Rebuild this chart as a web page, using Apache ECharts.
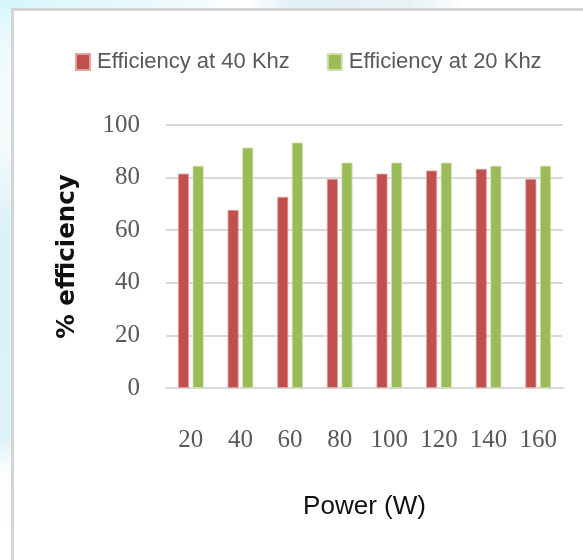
<!DOCTYPE html>
<html>
<head>
<meta charset="utf-8">
<script src="https://cdn.jsdelivr.net/npm/echarts@6/dist/echarts.min.js"></script>
<style>
  html, body { margin: 0; padding: 0; background: #ffffff; }
  #chart { width: 583px; height: 560px; }
</style>
</head>
<body>
<div id="chart"></div>
<script>
// Output power levels (W)
const powerLevels = ['20', '40', '60', '80', '100', '120', '140', '160'];
// Measured efficiency (%) at each switching frequency
const eff40kHz = [81.5, 67.7, 72.7, 79.5, 81.5, 82.7, 83.3, 79.5];
const eff20kHz = [84.5, 91.4, 93.3, 85.7, 85.7, 85.7, 84.5, 84.5];
const seriesNames = ['Efficiency at 40 Khz', 'Efficiency at 20 Khz'];
const yTicks = { min: 0, max: 100, interval: 20 };

const chart = echarts.init(document.getElementById('chart'), null, { renderer: 'canvas' });

const vGrad = (stops) => new echarts.graphic.LinearGradient(0, 0, 0, 1, stops);
const hGrad = (stops) => new echarts.graphic.LinearGradient(0, 0, 1, 0, stops);

chart.setOption({
  backgroundColor: '#ffffff',
  animation: false,
  graphic: [
    // pale backdrop strips around the framed panel
    { type: 'rect', z: -10, shape: { x: 0, y: 0, width: 12, height: 560 },
      style: { fill: vGrad([
        { offset: 0, color: '#d6f6fb' }, { offset: 0.08, color: '#eefafc' },
        { offset: 0.25, color: '#f7fbfc' }, { offset: 0.42, color: '#d9f1f8' },
        { offset: 0.78, color: '#dcf2f8' }, { offset: 0.84, color: '#fbfdfd' },
        { offset: 1, color: '#ffffff' } ]) } },
    { type: 'rect', z: -10, shape: { x: 0, y: 0, width: 583, height: 9 },
      style: { fill: hGrad([
        { offset: 0, color: '#d6f6fb' }, { offset: 0.3, color: '#eefafc' },
        { offset: 0.42, color: '#ffffff' }, { offset: 0.5, color: '#e3f1f6' },
        { offset: 0.7, color: '#e8f2f5' }, { offset: 0.8, color: '#ffffff' },
        { offset: 1, color: '#ffffff' } ]) } },
    // panel frame
    { type: 'rect', z: -5, shape: { x: 12.5, y: 9.5, width: 600, height: 600 },
      style: { fill: '#ffffff', stroke: '#d4d4d4', lineWidth: 3 } }
  ],
  legend: {
    top: 51,
    left: 75,
    padding: 0,
    itemWidth: 14,
    itemHeight: 16,
    itemGap: 37,
    icon: 'rect',
    textStyle: { fontFamily: 'Liberation Sans', fontSize: 22, color: '#595959', padding: [0, 0, 0, 2] },
    data: seriesNames
  },
  grid: { left: 166, right: 20, top: 125, bottom: 172, containLabel: false },
  xAxis: {
    type: 'category',
    data: powerLevels,
    name: 'Power (W)',
    nameLocation: 'middle',
    nameGap: 106,
    nameTextStyle: { fontFamily: 'Liberation Sans', fontSize: 26, color: '#111111' },
    axisLine: { lineStyle: { color: '#d9d9d9', width: 2 } },
    axisTick: { show: false },
    axisLabel: { fontFamily: 'Liberation Serif', fontSize: 25, color: '#595959', margin: 40 }
  },
  yAxis: {
    type: 'value',
    min: yTicks.min,
    max: yTicks.max,
    interval: yTicks.interval,
    name: '% efficiency',
    nameLocation: 'middle',
    nameGap: 86,
    nameRotate: 90,
    nameTextStyle: { fontFamily: 'DejaVu Sans', fontWeight: 'bold', fontSize: 24.5, color: '#111111' },
    axisLine: { show: false },
    axisTick: { show: false },
    splitLine: { lineStyle: { color: '#d9d9d9', width: 2 } },
    axisLabel: { fontFamily: 'Liberation Serif', fontSize: 25, color: '#595959', margin: 26 }
  },
  series: [
    { name: seriesNames[0], type: 'bar', data: eff40kHz, barWidth: 11, barGap: '33%',
      itemStyle: { color: '#c0504d', borderColor: '#e3a3a1', borderWidth: 0.8 } },
    { name: seriesNames[1], type: 'bar', data: eff20kHz, barWidth: 11,
      itemStyle: { color: '#9bbb59', borderColor: '#cfe0ad', borderWidth: 0.8 } }
  ]
});
</script>
</body>
</html>
